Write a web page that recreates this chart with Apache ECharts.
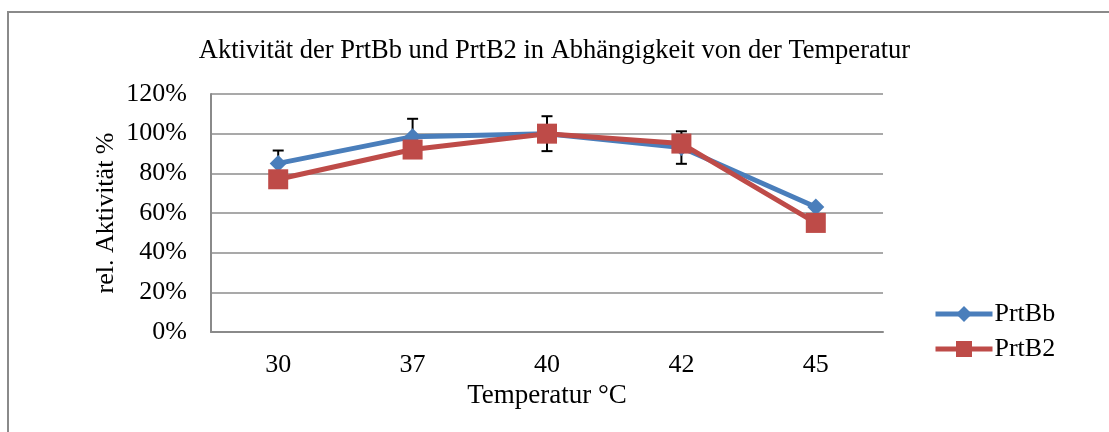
<!DOCTYPE html>
<html>
<head>
<meta charset="utf-8">
<script src="https://cdn.jsdelivr.net/npm/echarts@6/dist/echarts.min.js"></script>
<style>
  html, body { margin: 0; padding: 0; background: #ffffff; }
  #chart { width: 1109px; height: 432px; }
</style>
</head>
<body>
<div id="chart"></div>
<script>
var temperatures = ['30', '37', '40', '42', '45']
var prtBb = [85, 98.5, 100, 93, 63]
var prtB2 = [77, 92, 100, 95, 55]
var prtBbErr = [6.5, 9, 8.8, 8.2, 0]
var yTicks = { min: 0, max: 120, interval: 20 }

var myChart = echarts.init(document.getElementById('chart'))
var serif = 'Liberation Serif'

var errData = prtBb.map(function (v, i) {
  return [i, v - prtBbErr[i], v + prtBbErr[i]]
})

var option = {
  backgroundColor: '#ffffff',
  animation: false,
  textStyle: { fontFamily: serif, color: '#000' },
  graphic: [
    {
      type: 'rect',
      shape: { x: 8, y: 12, width: 1200, height: 500 },
      style: { fill: 'none', stroke: '#8a8a8a', lineWidth: 2 },
      silent: true
    }
  ],
  title: {
    text: 'Aktivität der PrtBb und PrtB2 in Abhängigkeit von der Temperatur',
    left: 'center',
    top: 33,
    textStyle: { fontFamily: serif, fontSize: 26.5, fontWeight: 'normal', color: '#000' }
  },
  grid: {
    left: 211,
    right: 226,
    top: 94,
    bottom: 100
  },
  legend: {
    data: [
      { name: 'PrtBb', lineStyle: { width: 5 } },
      { name: 'PrtB2', lineStyle: { width: 5 } }
    ],
    orient: 'vertical',
    left: 928,
    top: 296,
    itemWidth: 57,
    itemHeight: 20,
    itemGap: 9,
    textStyle: { fontFamily: serif, fontSize: 26, color: '#000', padding: [0, 0, 0, -3] }
  },
  xAxis: {
    type: 'category',
    data: temperatures,
    name: 'Temperatur °C',
    nameLocation: 'middle',
    nameGap: 50,
    nameMoveOverlap: false,
    nameTextStyle: { fontFamily: serif, fontSize: 27, color: '#000' },
    axisLine: { lineStyle: { color: '#8a8a8a', width: 2 } },
    axisTick: { show: false },
    axisLabel: { fontFamily: serif, fontSize: 26, color: '#000', margin: 20 }
  },
  yAxis: {
    type: 'value',
    min: yTicks.min,
    max: yTicks.max,
    interval: yTicks.interval,
    name: 'rel. Aktivität %',
    nameLocation: 'middle',
    nameGap: 92,
    nameMoveOverlap: false,
    nameTextStyle: { fontFamily: serif, fontSize: 26, color: '#000' },
    axisLine: { show: true, lineStyle: { color: '#8a8a8a', width: 2 } },
    axisTick: { show: false },
    splitLine: { lineStyle: { color: '#8c8c8c', width: 1.5 } },
    axisLabel: { fontFamily: serif, fontSize: 26, color: '#000', margin: 24, formatter: '{value}%' }
  },
  series: [
    {
      name: 'PrtBb-err',
      type: 'custom',
      z: 1,
      data: errData,
      renderItem: function (params, api) {
        if (api.value(2) === api.value(1)) return
        var lo = api.coord([api.value(0), api.value(1)])
        var hi = api.coord([api.value(0), api.value(2)])
        var w = 5.5
        var st = { stroke: '#000', lineWidth: 2 }
        return {
          type: 'group',
          children: [
            { type: 'line', shape: { x1: lo[0], y1: lo[1], x2: hi[0], y2: hi[1] }, style: st },
            { type: 'line', shape: { x1: hi[0] - w, y1: hi[1], x2: hi[0] + w, y2: hi[1] }, style: st },
            { type: 'line', shape: { x1: lo[0] - w, y1: lo[1], x2: lo[0] + w, y2: lo[1] }, style: st }
          ]
        }
      }
    },
    {
      name: 'PrtBb',
      type: 'line',
      z: 2,
      data: prtBb,
      symbol: 'diamond',
      symbolSize: 17,
      color: '#4a7ebb',
      lineStyle: { width: 5, color: '#4a7ebb' },
      itemStyle: { color: '#4a7ebb' }
    },
    {
      name: 'PrtB2',
      type: 'line',
      z: 3,
      data: prtB2,
      symbol: 'rect',
      symbolSize: 20,
      color: '#be4b48',
      lineStyle: { width: 5, color: '#be4b48' },
      itemStyle: { color: '#be4b48' }
    }
  ]
}

myChart.setOption(option, true)
window.addEventListener('resize', () => {
  myChart.resize()
})
</script>
</body>
</html>
